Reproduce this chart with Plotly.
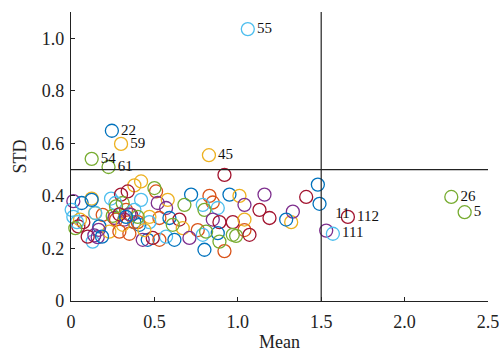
import plotly.graph_objects as go

# ---- data ----
labeled_ids = [55, 22, 59, 54, 61, 45, 26, 5, 112, 11, 111]
labeled_mean = [1.06, 0.245, 0.30, 0.124, 0.225, 0.827, 2.28, 2.36, 1.66, 1.53, 1.57]
labeled_std = [1.035, 0.648, 0.598, 0.541, 0.510, 0.555, 0.396, 0.338, 0.32, 0.268, 0.256]

# unlabeled points: id, mean, std
blue_ids = [1, 8, 15, 29, 36, 43, 50, 57, 64, 71, 78, 85, 92, 99, 106, 113, 120]
blue_mean = [0.72, 0.95, 0.064, 0.38, 0.41, 0.59, 0.17, 0.46, 0.62, 0.88, 0.80, 1.48, 1.49, 1.29, 0.124, 0.186, 0.33]
blue_std = [0.405, 0.405, 0.373, 0.30, 0.29, 0.316, 0.284, 0.233, 0.233, 0.258, 0.195, 0.443, 0.37, 0.31, 0.385, 0.245, 0.32]

orange_ids = [2, 9, 16, 23, 30, 37, 44, 51, 58, 65, 72, 79, 86, 93]
orange_mean = [0.51, 0.83, 0.85, 0.19, 0.33, 0.53, 0.76, 0.35, 0.53, 0.92, 1.04, 0.29, 0.27, 0.40]
orange_std = [0.417, 0.40, 0.375, 0.328, 0.347, 0.316, 0.27, 0.256, 0.233, 0.19, 0.27, 0.264, 0.31, 0.30]

yellow_ids = [3, 10, 17, 24, 31, 38, 52, 66, 73, 80, 87, 94, 101, 108]
yellow_mean = [0.42, 0.38, 0.124, 0.58, 0.144, 0.47, 0.67, 0.23, 1.01, 1.04, 1.32, 0.054, 0.31, 0.44]
yellow_std = [0.455, 0.44, 0.39, 0.385, 0.335, 0.32, 0.277, 0.264, 0.40, 0.31, 0.30, 0.31, 0.29, 0.27]

purple_ids = [4, 18, 25, 32, 39, 46, 53, 60, 67, 74, 81, 88, 95, 102, 109]
purple_mean = [0.014, 0.52, 0.57, 0.26, 0.32, 0.85, 0.14, 0.16, 0.43, 0.71, 1.16, 1.04, 1.33, 0.166, 0.35]
purple_std = [0.38, 0.373, 0.354, 0.316, 0.31, 0.31, 0.25, 0.243, 0.233, 0.24, 0.405, 0.366, 0.34, 0.271, 0.33]

green_ids = [12, 19, 33, 40, 47, 68, 75, 82, 89, 96, 103, 110, 117]
green_mean = [0.50, 0.31, 0.68, 0.80, 0.25, 0.61, 0.81, 0.89, 0.97, 0.99, 0.026, 0.40, 0.27]
green_std = [0.43, 0.373, 0.366, 0.347, 0.324, 0.29, 0.264, 0.226, 0.252, 0.248, 0.277, 0.32, 0.36]

cyan_ids = [6, 13, 20, 27, 34, 41, 48, 62, 69, 76, 83, 90, 97, 104]
cyan_mean = [0.24, 0.42, 0.79, 0.88, 0.38, 0.014, 0.13, 0.57, 0.79, 0.004, 0.146, 0.266, 0.036, 0.47]
cyan_std = [0.39, 0.385, 0.366, 0.354, 0.347, 0.32, 0.226, 0.245, 0.252, 0.347, 0.335, 0.373, 0.30, 0.30]

red_ids = [7, 14, 21, 28, 35, 42, 49, 56, 63, 70, 77, 84, 91, 98, 105, 119]
red_mean = [0.92, 0.34, 0.30, 0.36, 0.074, 0.044, 0.65, 0.89, 0.97, 0.10, 0.49, 1.41, 1.13, 1.19, 1.07, 0.29]
red_std = [0.48, 0.417, 0.405, 0.328, 0.30, 0.284, 0.31, 0.30, 0.30, 0.245, 0.24, 0.396, 0.347, 0.316, 0.252, 0.33]

x_ticks = [0, 0.5, 1.0, 1.5, 2.0, 2.5]
x_ticklabels = ["0", "0.5", "1.0", "1.5", "2.0", "2.5"]
y_ticks = [0, 0.2, 0.4, 0.6, 0.8, 1.0]
y_ticklabels = ["0", "0.2", "0.4", "0.6", "0.8", "1.0"]
mean_threshold = 1.5
std_threshold = 0.5

# ---- style ----
palette = ['#0072BD', '#D95319', '#EDB120', '#7E2F8E', '#77AC30', '#4DBEEE', '#A2142F']
FONT = "Liberation Serif, Times New Roman, serif"

ids, xs, ys = [], [], []
for i_, m_, s_ in [(blue_ids, blue_mean, blue_std), (orange_ids, orange_mean, orange_std),
                   (yellow_ids, yellow_mean, yellow_std), (purple_ids, purple_mean, purple_std),
                   (green_ids, green_mean, green_std), (cyan_ids, cyan_mean, cyan_std),
                   (red_ids, red_mean, red_std)]:
    ids += i_; xs += m_; ys += s_
order = sorted(range(len(ids)), key=lambda k: ids[k])
ids = [ids[k] for k in order]; xs = [xs[k] for k in order]; ys = [ys[k] for k in order]

label_pos = ["top right" if i == 11 else "middle right" for i in labeled_ids]

fig = go.Figure()
fig.add_trace(go.Scatter(
    x=xs, y=ys, mode="markers", cliponaxis=False,
    marker=dict(symbol="circle-open", size=13, line=dict(width=1.3),
                color=[palette[(i - 1) % 7] for i in ids]),
    showlegend=False, hoverinfo="skip"))
fig.add_trace(go.Scatter(
    x=labeled_mean, y=labeled_std, mode="markers+text", cliponaxis=False,
    text=[str(i) for i in labeled_ids], textposition=label_pos,
    textfont=dict(family=FONT, size=15, color="#111"),
    marker=dict(symbol="circle-open", size=13, line=dict(width=1.3),
                color=[palette[(i - 1) % 7] for i in labeled_ids]),
    showlegend=False, hoverinfo="skip"))

fig.add_shape(type="line", xref="x", yref="paper", x0=mean_threshold, x1=mean_threshold,
              y0=0, y1=1, line=dict(color="#222", width=1.2))
fig.add_shape(type="line", xref="paper", yref="y", x0=0, x1=1,
              y0=std_threshold, y1=std_threshold, line=dict(color="#222", width=1.2))

fig.update_layout(
    width=499, height=352,
    margin=dict(l=71, r=11, t=12, b=51, autoexpand=False),
    paper_bgcolor="white", plot_bgcolor="white",
    font=dict(family=FONT, size=18, color="#222"),
    xaxis=dict(range=[0, 2.5], tickvals=x_ticks, ticktext=x_ticklabels,
               showgrid=False, zeroline=False, showline=True, linecolor="#222", linewidth=1.2,
               ticks="inside", ticklen=4, tickcolor="#222",
               ticklabeloverflow="allow", ticklabelstandoff=4,
               title=dict(text="Mean", standoff=6, font=dict(size=18))),
    yaxis=dict(range=[0, 1.1], tickvals=y_ticks, ticktext=y_ticklabels,
               showgrid=False, zeroline=False, showline=True, linecolor="#222", linewidth=1.2,
               ticks="inside", ticklen=4, tickcolor="#222",
               ticklabelstandoff=2,
               title=dict(text="STD", standoff=10, font=dict(size=18))),
)

fig.write_html("out.html")
